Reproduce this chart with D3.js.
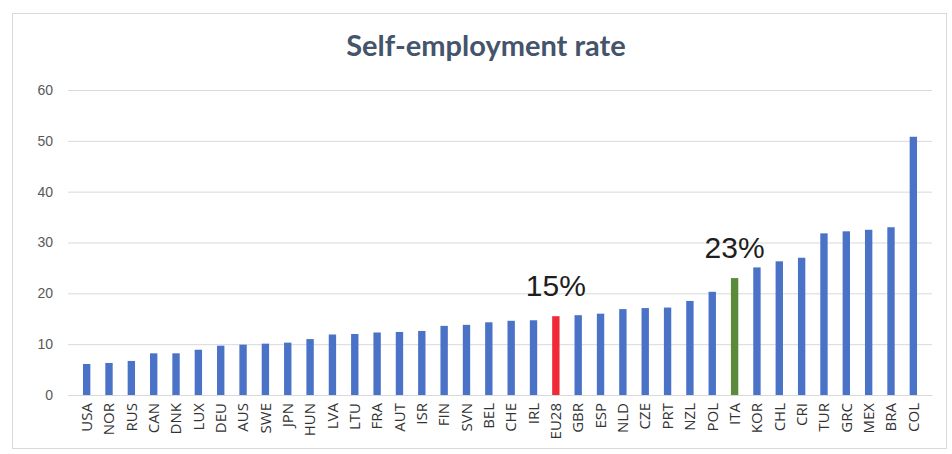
<!DOCTYPE html>
<html>
<head>
<meta charset="utf-8">
<script src="https://cdn.jsdelivr.net/npm/d3@7"></script>
<style>
  body { margin: 0; background: #fff; }
  svg { display: block; }
</style>
</head>
<body>
<div id="chart"></div>
<script>
// Data
const countries = ["USA", "NOR", "RUS", "CAN", "DNK", "LUX", "DEU", "AUS", "SWE", "JPN",
  "HUN", "LVA", "LTU", "FRA", "AUT", "ISR", "FIN", "SVN", "BEL", "CHE",
  "IRL", "EU28", "GBR", "ESP", "NLD", "CZE", "PRT", "NZL", "POL", "ITA",
  "KOR", "CHL", "CRI", "TUR", "GRC", "MEX", "BRA", "COL"];
const rates = [6.1, 6.3, 6.7, 8.2, 8.2, 8.9, 9.7, 9.9, 10.1, 10.3,
  11.0, 11.9, 12.0, 12.3, 12.4, 12.6, 13.6, 13.8, 14.3, 14.6,
  14.7, 15.5, 15.7, 16.0, 16.9, 17.1, 17.2, 18.5, 20.3, 23.0,
  25.1, 26.3, 27.0, 31.8, 32.2, 32.5, 33.0, 50.8];
const yTicks = [0, 10, 20, 30, 40, 50, 60];
const callouts = [{name: "EU28", label: "15%"}, {name: "ITA", label: "23%"}];
const highlight = {EU28: "#ee2b36", ITA: "#5a8a3a"};

const W = 952, H = 454;
const MARGIN = {TOP: 90, RIGHT: 20, BOTTOM: 59, LEFT: 68};

const svg = d3.select("#chart").append("svg")
  .attr("width", W)
  .attr("height", H);

// faint chart frame
svg.append("rect")
  .attr("x", 12.5).attr("y", 13.5)
  .attr("width", 934).attr("height", 435)
  .attr("fill", "none")
  .attr("stroke", "#d9d9d9");

const x = d3.scaleBand()
  .domain(countries)
  .range([MARGIN.LEFT, W - MARGIN.RIGHT])
  .padding(0.67);

const y = d3.scaleLinear()
  .domain([0, 60])
  .range([H - MARGIN.BOTTOM, MARGIN.TOP]);

// Title
svg.append("text")
  .attr("x", 486)
  .attr("y", 56)
  .attr("text-anchor", "middle")
  .attr("font-family", "Lato, 'Noto Sans', sans-serif")
  .attr("font-weight", "bold")
  .attr("font-size", 29)
  .attr("fill", "#44546a")
  .text("Self-employment rate");

// grid + y labels
const yAxis = svg.append("g")
  .attr("class", "y axis")
  .attr("transform", "translate(" + MARGIN.LEFT + ",0)")
  .call(d3.axisLeft(y).tickValues(yTicks).tickSize(-(W - MARGIN.LEFT - MARGIN.RIGHT)).tickPadding(15));
yAxis.select(".domain").remove();
yAxis.selectAll(".tick line").attr("stroke", "#d9d9d9");
yAxis.selectAll(".tick text")
  .attr("font-family", "'Liberation Sans', Arial, sans-serif")
  .attr("font-size", 14)
  .attr("fill", "#595959");

// x labels
const xAxis = svg.append("g")
  .attr("class", "x axis")
  .attr("transform", "translate(0," + y(0) + ")")
  .call(d3.axisBottom(x).tickSize(0).tickPadding(0));
xAxis.select(".domain").attr("stroke", "#d9d9d9");
xAxis.selectAll(".tick text")
  .attr("font-family", "'Open Sans', 'Noto Sans', sans-serif")
  .attr("font-size", 15)
  .attr("fill", "#333333")
  .attr("text-anchor", "end")
  .attr("dy", "0.35em")
  .attr("transform", "translate(0,8) rotate(-90)");

// bars
svg.selectAll(".bar")
  .data(countries)
  .enter()
  .append("rect")
  .attr("class", "bar")
  .attr("x", (d) => x(d))
  .attr("y", (d, i) => y(rates[i]))
  .attr("width", x.bandwidth())
  .attr("height", (d, i) => y(0) - y(rates[i]))
  .attr("fill", (d) => highlight[d] || "#4a72c6");

// callouts above highlighted bars
svg.selectAll(".callout")
  .data(callouts)
  .enter()
  .append("text")
  .attr("class", "callout")
  .attr("x", (d) => x(d.name) + x.bandwidth() / 2)
  .attr("y", (d) => y(rates[countries.indexOf(d.name)]) - 20)
  .attr("text-anchor", "middle")
  .attr("font-family", "'Liberation Sans', Arial, sans-serif")
  .attr("font-size", 30)
  .attr("fill", "#1e1e1e")
  .text((d) => d.label);
</script>
</body>
</html>
